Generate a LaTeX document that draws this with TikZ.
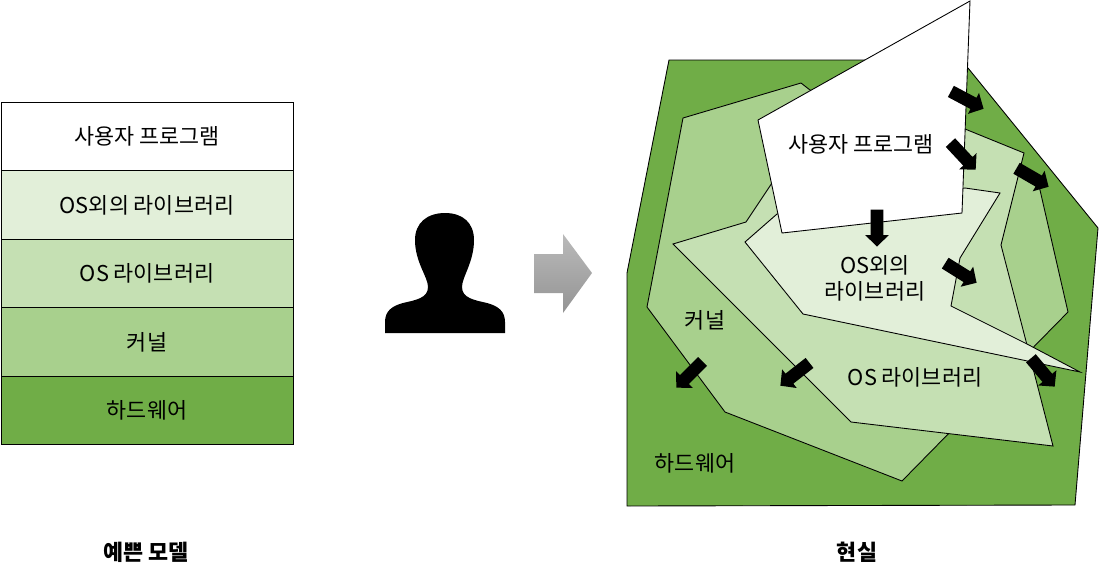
\documentclass[tikz,border=0pt]{standalone}
\usepackage{fontspec}
\setmainfont{Noto Sans CJK KR}
\usetikzlibrary{positioning,shapes.arrows}
\definecolor{hwgreen}{HTML}{70AD47}
\definecolor{kernelgreen}{HTML}{A8D08D}
\definecolor{osgreen}{HTML}{C5E0B3}
\definecolor{extgreen}{HTML}{E2EFD9}
\tikzset{
	layerbox/.style={draw=black, line width=0.5pt, outer sep=0pt, minimum width=292*0.02cm, minimum height=68.5*0.02cm, inner sep=0pt, text height=10.7pt, text depth=1.3pt, font=\fontsize{12.4pt}{14pt}\selectfont},
	region/.style={draw=black, line width=0.5pt, line join=miter},
	blockarrow/.style={single arrow, fill=black, anchor=tip, inner xsep=0pt, inner ysep=6*0.02cm, minimum height=37*0.02cm, single arrow head extend=5.5*0.02cm, single arrow tip angle=92},
	regionlabel/.style={font=\fontsize{12.4pt}{14.8pt}\selectfont, align=center, inner sep=0pt},
	caption/.style={font=\fontsize{12.4pt}{14pt}\selectfont\bfseries, inner sep=0pt}
}

\begin{document}
\begin{tikzpicture}[x=0.02cm, y=-0.02cm]
	%%%%% START %%%%%
	\useasboundingbox (0, 0) rectangle (1100, 579);

	\node[layerbox, fill=white, anchor=north west] (userrow) at (1, 102) {사용자 프로그램};
	\node[layerbox, fill=extgreen, below=0pt of userrow] (extrow) {OS외의 라이브러리};
	\node[layerbox, fill=osgreen, below=0pt of extrow] (osrow) {OS 라이브러리};
	\node[layerbox, fill=kernelgreen, below=0pt of osrow] (kernelrow) {커널};
	\node[layerbox, fill=hwgreen, below=0pt of kernelrow] (hwrow) {하드웨어};

	\fill[black] (385, 333) -- (385, 322) .. controls (385, 311) and (392, 306) .. (403, 303)
		.. controls (416, 300) and (428, 298) .. (428, 287) .. controls (428, 277) and (415, 262) .. (415, 240)
		.. controls (415, 223) and (427, 213) .. (445, 213) .. controls (463, 213) and (474, 223) .. (474, 240)
		.. controls (474, 262) and (462, 277) .. (462, 287) .. controls (462, 298) and (474, 300) .. (487, 303)
		.. controls (498, 306) and (505, 311) .. (505, 322) -- (505, 333) -- cycle;

	\shade[top color=black!27, bottom color=black!42] (534, 254) -- (563, 254) -- (563, 234) -- (592, 273) -- (563, 313) -- (563, 293) -- (534, 293) -- cycle;

	\draw[region, fill=hwgreen] (669, 60) -- (900, 60) -- (968, 68) -- (1098, 228) -- (1075, 505) -- (627, 506) -- (627, 273) -- cycle;
	\draw[region, fill=kernelgreen] (801, 83) -- (683, 118) -- (647, 307) -- (725, 412) -- (902, 481) -- (1068, 312) -- (1040, 190) -- (1036, 176) -- (810, 90) -- cycle;
	\draw[region, fill=osgreen] (772, 183) -- (965, 129) -- (1024, 153) -- (1001, 245) -- (1027, 345) -- (1053, 446) -- (851, 422) -- (673, 244) -- (746, 222) -- cycle;
	\draw[region, fill=extgreen] (777, 214) -- (965, 188) -- (1000, 193) -- (960, 258) -- (951, 306) -- (1027, 344) -- (1080, 372) -- (803, 314) -- (745, 242) -- cycle;
	\draw[region, fill=white] (970, 1) -- (758, 120) -- (782, 233) -- (962, 213) -- cycle;

	\node[blockarrow, rotate=-28] (toprightarrow) at (984, 109) {};
	\node[blockarrow, rotate=-47] (midrightarrow) at (976, 170) {};
	\node[blockarrow, rotate=-30] (farrightarrow) at (1049, 187) {};
	\node[blockarrow, rotate=-90] (downarrow) at (877, 247) {};
	\node[blockarrow, rotate=-32] (extarrow) at (977, 283) {};
	\node[blockarrow, rotate=225] (kernelarrow) at (676, 388) {};
	\node[blockarrow, rotate=218] (osarrow) at (780, 386) {};
	\node[blockarrow, rotate=-50] (tiparrow) at (1055, 387) {};

	\node[regionlabel] (userlabel) at (861, 144) {사용자 프로그램};
	\node[regionlabel] (extlabel) at (875, 278) {OS외의\\라이브러리};
	\node[regionlabel] (oslabel) at (915, 377) {OS 라이브러리};
	\node[regionlabel] (kernellabel) at (705, 320.5) {커널};
	\node[regionlabel] (hwlabel) at (695, 463) {하드웨어};

	\node[caption] (modelcaption) at (146, 552) {예쁜 모델};
	\node[caption] (realcaption) at (857, 552) {현실};
	%%%%% END %%%%%
\end{tikzpicture}
\end{document}
